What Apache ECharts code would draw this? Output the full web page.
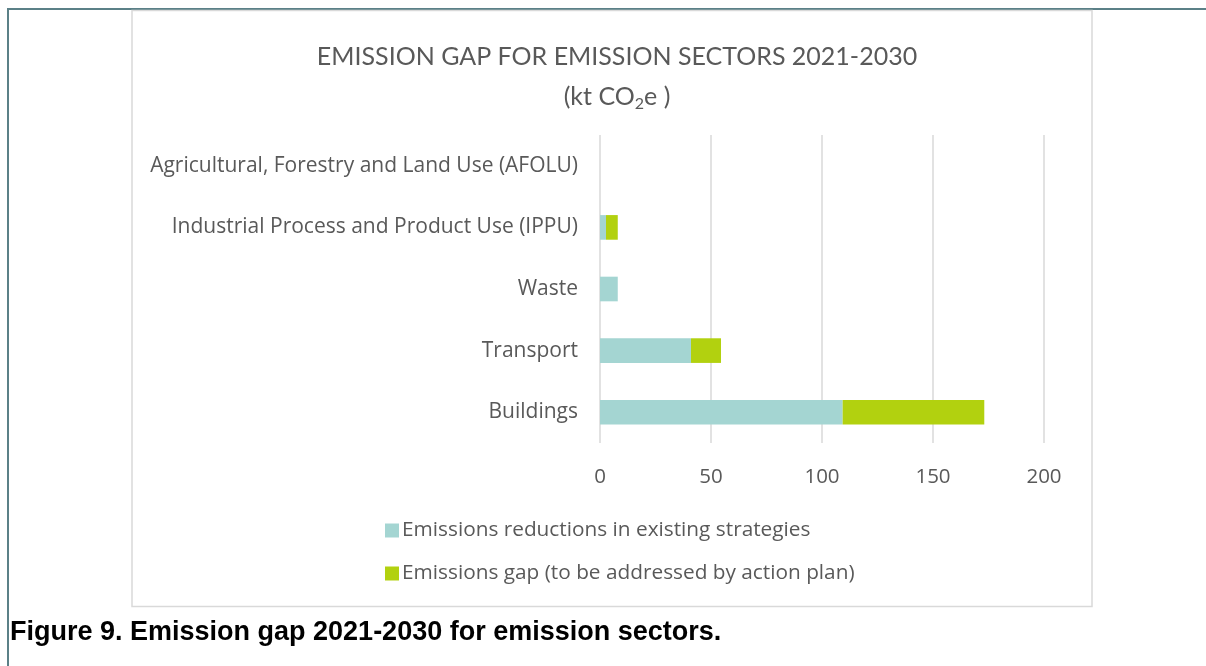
<!DOCTYPE html>
<html>
<head>
<meta charset="utf-8">
<script src="https://cdn.jsdelivr.net/npm/echarts@6/dist/echarts.min.js"></script>
<style>
  html, body { margin: 0; padding: 0; background: #fff; }
  #chart { width: 1206px; height: 666px; }
</style>
</head>
<body>
<div id="chart"></div>
<script>
const sectors = ['Buildings', 'Transport', 'Waste', 'Industrial Process and Product Use (IPPU)', 'Agricultural, Forestry and Land Use (AFOLU)']
const existingReductions = [109.3, 41, 8, 2.7, 0]
const emissionsGap = [63.8, 13.5, 0, 5.3, 0]
const xTicks = [0, 50, 100, 150, 200]

const seriesNames = ['Emissions reductions in existing strategies', 'Emissions gap (to be addressed by action plan)']
const font = '"Open Sans", Lato, sans-serif'

const dom = echarts.init(document.getElementById('chart'))
const option = {
  animation: false,
  title: {
    text: 'EMISSION GAP FOR EMISSION SECTORS 2021-2030\n(kt CO{s|2}e )',
    left: 612,
    top: 32,
    textAlign: 'center',
    textStyle: {
      fontFamily: 'Lato, sans-serif',
      fontSize: 25,
      fontWeight: 'normal',
      color: '#595959',
      lineHeight: 40,
      rich: {
        s: { fontFamily: 'Lato, sans-serif', fontSize: 16, color: '#595959', padding: [14, 0, 0, 0] }
      }
    }
  },
  graphic: [
    // outer page frame
    { type: 'line', shape: { x1: 7, y1: 9, x2: 1206, y2: 9 }, style: { stroke: '#5b8087', lineWidth: 2 } },
    { type: 'line', shape: { x1: 8, y1: 8, x2: 8, y2: 666 }, style: { stroke: '#5b8087', lineWidth: 2 } },
    // chart area frame
    { type: 'rect', shape: { x: 132, y: 10.5, width: 960, height: 596 }, style: { fill: 'none', stroke: '#d9d9d9', lineWidth: 1.5 } },
    {
      type: 'text', left: 10, top: 619,
      style: { text: 'Figure 9. Emission gap 2021-2030 for emission sectors.', fontFamily: '"Liberation Sans", Arial, sans-serif', fontWeight: 'bold', fontSize: 27, fill: '#000' }
    }
  ],
  legend: {
    orient: 'vertical',
    left: 380,
    top: 515,
    itemWidth: 14,
    itemHeight: 14,
    itemGap: 22,
    icon: 'rect',
    data: seriesNames,
    textStyle: { fontFamily: font, fontSize: 20.8, color: '#595959', padding: [0, 0, 0, -2] }
  },
  grid: { left: 600, right: 162, top: 135, bottom: 223, containLabel: false },
  xAxis: {
    type: 'value',
    min: 0,
    max: 200,
    interval: 50,
    axisLine: { show: false },
    axisTick: { show: false },
    splitLine: { show: true, lineStyle: { color: '#d9d9d9', width: 1.5 } },
    axisLabel: {
      fontFamily: font, fontSize: 20.5, color: '#595959', margin: 24,
      formatter: v => xTicks.includes(v) ? String(v) : ''
    }
  },
  yAxis: {
    type: 'category',
    data: sectors,
    axisLine: { show: false },
    axisTick: { show: false },
    axisLabel: { fontFamily: font, fontSize: 21, color: '#595959', margin: 22 }
  },
  series: [{
    name: seriesNames[0],
    type: 'bar',
    stack: 'total',
    barCategoryGap: '60%',
    itemStyle: { color: '#a4d5d2' },
    data: existingReductions
  }, {
    name: seriesNames[1],
    type: 'bar',
    stack: 'total',
    barCategoryGap: '60%',
    itemStyle: { color: '#b2d10f' },
    data: emissionsGap
  }]
}
dom.setOption(option)
</script>
</body>
</html>
